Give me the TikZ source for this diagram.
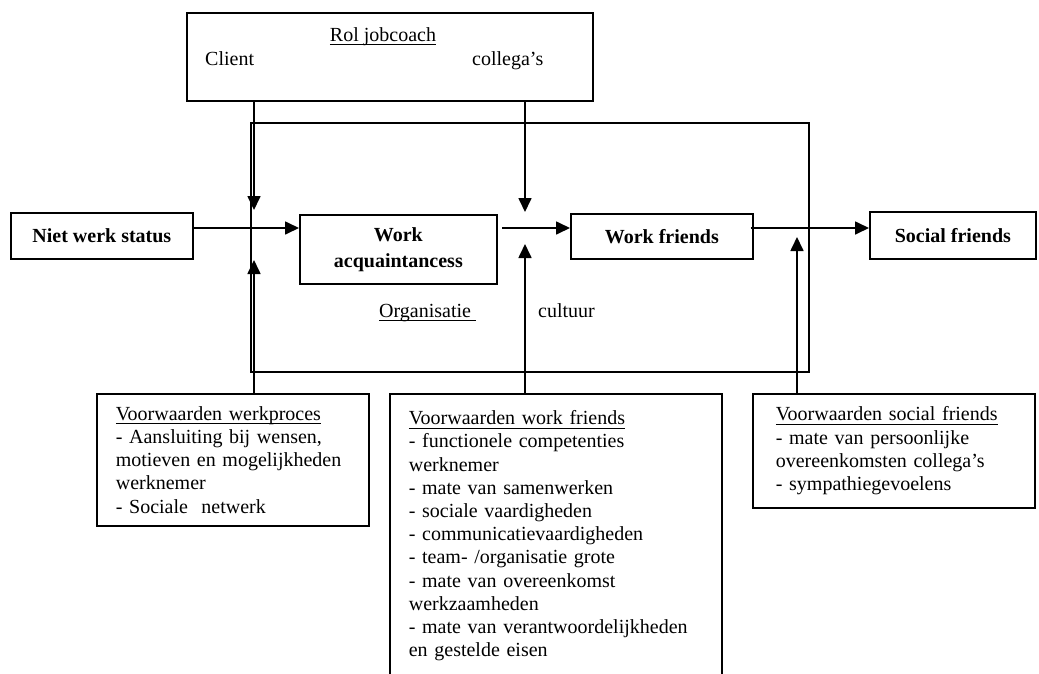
\documentclass[tikz,border=0pt]{standalone}
\usepackage{fontspec}
\setmainfont{Liberation Serif}
\usetikzlibrary{arrows.meta}
\newcommand{\lettertype}{\fontsize{20}{23.2}\selectfont}
\newcommand{\onderlijn}[1]{\leavevmode\setbox0\hbox{#1}\rlap{\rule[-4pt]{\wd0}{1.2pt}}\box0}
\tikzset{kader/.style={draw,line width=1.7pt,inner sep=0pt,font=\lettertype},
  status/.style={kader,font=\lettertype\bfseries,align=center,anchor=north west},
  voorw/.style={kader,align=left,anchor=north west,inner xsep=19pt},
  tekst/.style={font=\lettertype,inner sep=0pt,anchor=base west},
  lijn/.style={line width=1.7pt},
  pijl/.style={lijn,-{Triangle[length=14pt,width=13pt]}}}

\begin{document}
\begin{tikzpicture}[x=1pt,y=-1pt]
\useasboundingbox (0,0) rectangle (1039,673);
\clip (0,0) rectangle (1039,673);
\node[kader,minimum width=406pt,minimum height=88pt,anchor=north west] (rol) at (186,12) {};
\node[tekst,anchor=base] (rolkop) at (383,41) {\onderlijn{Rol jobcoach}};
\node[tekst] (client) at (205,65) {Client};
\node[tekst] (collega) at (472,65) {collega’s};
\node[status,minimum width=182pt,minimum height=46pt] (niet) at (10,212) {Niet werk status};
\node[status,minimum width=197pt,minimum height=69pt] (wacq) at (299,214) {Work\\[2.8pt]acquaintancess};
\node[status,minimum width=182pt,minimum height=45pt] (wf) at (570,213) {Work friends};
\node[status,minimum width=166pt,minimum height=47pt] (sf) at (869,211) {Social friends};
\node[tekst] (org) at (379,317) {\onderlijn{Organisatie\ }};
\node[tekst] (cult) at (538,317) {cultuur};
\node[voorw,text width=234pt,minimum height=132pt] (vwp) at (96,393) {\onderlijn{Voorwaarden werkproces}\\- Aansluiting bij wensen,\\motieven en mogelijkheden\\werknemer\\- Sociale\ \ netwerk};
\node[voorw,text width=294pt,minimum height=284pt] (vwf) at (389,393) {\onderlijn{Voorwaarden work friends}\\- functionele competenties\\werknemer\\- mate van samenwerken\\- sociale vaardigheden\\- communicatievaardigheden\\- team- /organisatie grote\\- mate van overeenkomst\\werkzaamheden\\- mate van verantwoordelijkheden\\en gestelde eisen};
\node[voorw,inner xsep=23pt,text width=236pt,minimum height=114pt] (vsf) at (752,393) {\onderlijn{Voorwaarden social friends}\\- mate van persoonlijke\\overeenkomsten collega’s\\- sympathiegevoelens};
\coordinate (org1) at (251,123); \coordinate (org2) at (809,372);
\draw[lijn] (org1) rectangle (org2);
\coordinate (kr1) at (254,228); \coordinate (start2) at (502,228);
\coordinate (tip1) at (254,210); \coordinate (tip2) at (525,212);
\coordinate (tip3) at (254,260); \coordinate (tip4) at (525,244); \coordinate (tip5) at (797,237);
\draw[pijl] (niet.east |- kr1) -- (wacq.west |- kr1);
\draw[pijl] (start2) -- (wf.west |- kr1);
\draw[pijl] ([xshift=-3pt]wf.east |- kr1) -- (sf.west |- kr1);
\draw[pijl] (rol.south -| tip1) -- (tip1);
\draw[pijl] (rol.south -| tip2) -- (tip2);
\draw[pijl] (vwp.north -| tip3) -- (tip3);
\draw[pijl] (vwf.north -| tip4) -- (tip4);
\draw[pijl] (vsf.north -| tip5) -- (tip5);
\end{tikzpicture}
\end{document}
